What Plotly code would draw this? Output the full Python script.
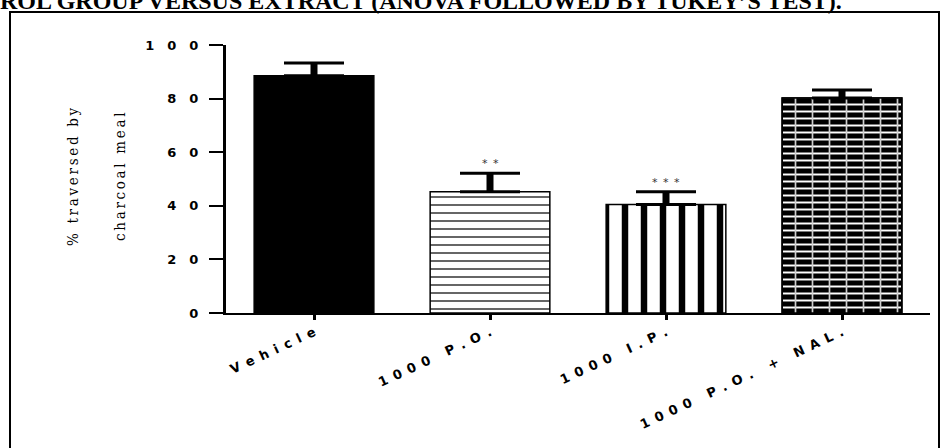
import plotly.graph_objects as go

# ---------------- data ----------------
categories = ["Vehicle", "1000 P.O.", "1000 I.P.", "1000 P.O. + NAL."]
means = [88.5, 45.2, 40.5, 80.2]
sem = [4.8, 6.9, 4.7, 3.0]
significance = ["*\u2002*", "*\u2002*\u2002*"]
significance_idx = [1, 2]
y_ticks = [0, 20, 40, 60, 80, 100]
title_text = "ROL GROUP VERSUS EXTRACT (ANOVA FOLLOWED BY TUKEY\u2019S TEST)."
y_title_lines = ["% traversed by", "charcoal meal"]

# ---------------- helpers ----------------
def spaced(s, gap):
    return gap.join(list(s))

# plot area in pixels (for paper-referenced decorations)
W, H = 943, 448
L, R, T, B = 226, 13, 45, 135
pw, ph = W - L - R, H - T - B

def px_x(x):
    return (x - L) / pw

def px_y(y):
    return (H - B - y) / ph

fig = go.Figure()

# main bars (patterns drawn as light foreground on dark background)
fig.add_trace(go.Bar(
    x=categories, y=means, width=0.68,
    marker=dict(
        color=["black", "black", "black", "black"],
        line=dict(color="black", width=1.5),
        pattern=dict(
            shape=["", "-", "|", "-"],
            fgcolor=["black", "white", "white", "#cfcfcf"],
            bgcolor=["black", "black", "black", "black"],
            fgopacity=1,
            size=[8, 8, 19, 7],
            solidity=[0.2, 0.85, 0.66, 0.28],
        ),
    ),
    hoverinfo="skip",
))

# brick-like vertical mortar overlay on last bar
fig.add_trace(go.Bar(
    x=[categories[3]], y=[means[3]], width=0.68,
    marker=dict(
        color="rgba(0,0,0,0)",
        line=dict(color="black", width=1.5),
        pattern=dict(shape="|", fgcolor="#cfcfcf", bgcolor="rgba(0,0,0,0)",
                     fgopacity=1, size=17, solidity=0.1),
    ),
    hoverinfo="skip",
))

# error bar caps
fig.add_trace(go.Scatter(
    x=categories, y=means, mode="markers",
    marker=dict(size=1, color="rgba(0,0,0,0)"),
    error_y=dict(type="data", symmetric=False, array=sem,
                 arrayminus=[0] * len(sem), color="black",
                 thickness=3, width=30),
    hoverinfo="skip",
))
# error bar stems
fig.add_trace(go.Scatter(
    x=categories, y=means, mode="markers",
    marker=dict(size=1, color="rgba(0,0,0,0)"),
    error_y=dict(type="data", symmetric=False, array=sem,
                 arrayminus=[0] * len(sem), color="black",
                 thickness=7, width=0),
    hoverinfo="skip",
))

# significance stars
for i, s in zip(significance_idx, significance):
    fig.add_annotation(x=categories[i], y=means[i] + sem[i], text=s, showarrow=False,
                       yanchor="bottom", yshift=1,
                       font=dict(family="DejaVu Sans", size=11, color="#333"))

# y-axis title (two lines, rotated)
for xpx, line in zip([73, 120], y_title_lines):
    fig.add_annotation(xref="paper", yref="paper", x=px_x(xpx), y=px_y(177),
                       text=spaced(line, "\u2009"), textangle=-90,
                       showarrow=False, xanchor="center", yanchor="middle",
                       font=dict(family="DejaVu Serif Condensed", size=15, color="black"))

# cut-off title at the very top
fig.add_annotation(xref="paper", yref="paper", x=px_x(-2), y=px_y(1),
                   text=title_text, showarrow=False, xanchor="left", yanchor="middle",
                   font=dict(family="Liberation Serif", size=24, color="black", weight="bold"))

# frame around the chart
fig.add_shape(type="rect", xref="paper", yref="paper",
              x0=px_x(10), x1=px_x(939), y0=px_y(460), y1=px_y(12),
              line=dict(color="black", width=2), fillcolor="rgba(0,0,0,0)")

fig.update_layout(
    width=W, height=H,
    margin=dict(l=L, r=R, t=T, b=B, autoexpand=False),
    paper_bgcolor="white", plot_bgcolor="white",
    barmode="overlay", showlegend=False,
    xaxis=dict(
        range=[-0.5, 3.5], showline=True, linecolor="black", linewidth=2,
        ticks="outside", ticklen=5, tickwidth=3, tickcolor="black",
        tickangle=-25, tickvals=categories,
        ticktext=[spaced(c, "\u2002") for c in categories],
        tickfont=dict(family="DejaVu Sans", size=13, color="black", weight="bold"),
        showgrid=False, zeroline=False, automargin=False,
    ),
    yaxis=dict(
        range=[0, 100], showline=True, linecolor="black", linewidth=3,
        ticks="outside", ticklen=14, tickwidth=2, tickcolor="black",
        tickvals=y_ticks,
        ticktext=[spaced(str(v), "\u2003") for v in y_ticks],
        tickfont=dict(family="DejaVu Sans", size=13, color="black", weight="bold"),
        ticklabelstandoff=8, automargin=False,
        showgrid=False, zeroline=False,
    ),
)

fig.write_html("out.html", config={"displayModeBar": False},
               post_script="document.body.style.margin='0';")
